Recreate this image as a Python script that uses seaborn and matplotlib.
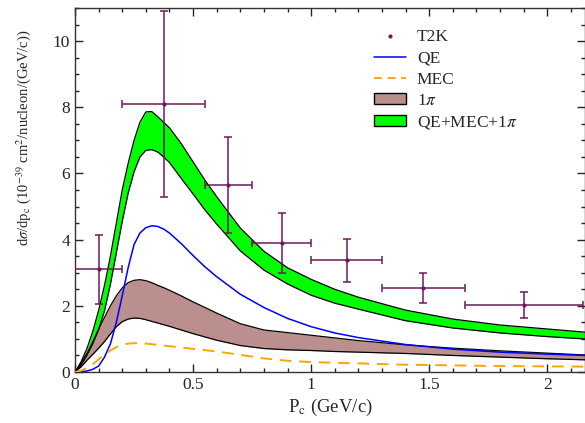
import numpy as np
import pandas as pd
import seaborn as sns
import matplotlib
matplotlib.use("Agg")
import matplotlib.pyplot as plt
from matplotlib.lines import Line2D
from matplotlib.patches import Patch
from matplotlib.ticker import MultipleLocator

# ---- data ----
pc = [0.0, 0.025, 0.05, 0.075, 0.1, 0.125, 0.15, 0.175, 0.2, 0.225, 0.25, 0.275,
      0.3, 0.325, 0.35, 0.375, 0.4, 0.45, 0.5, 0.55, 0.6, 0.7, 0.8, 0.9,
      1.0, 1.1, 1.2, 1.4, 1.6, 1.8, 2.0, 2.2]
qe = [0.0, 0.005, 0.03, 0.08, 0.18, 0.45, 0.85, 1.5, 2.3, 3.15, 3.85, 4.2,
      4.36, 4.42, 4.4, 4.32, 4.2, 3.88, 3.52, 3.18, 2.88, 2.35, 1.95, 1.62,
      1.37, 1.18, 1.04, 0.83, 0.69, 0.6, 0.54, 0.49]
mec = [0.0, 0.04, 0.12, 0.24, 0.38, 0.52, 0.65, 0.75, 0.82, 0.86, 0.87, 0.87,
       0.86, 0.84, 0.82, 0.8, 0.78, 0.74, 0.7, 0.66, 0.62, 0.52, 0.41, 0.34,
       0.3, 0.28, 0.26, 0.22, 0.2, 0.18, 0.17, 0.16]
pi_low = [0.0, 0.15, 0.35, 0.53, 0.72, 0.92, 1.15, 1.37, 1.52, 1.6, 1.63, 1.62,
          1.58, 1.53, 1.48, 1.43, 1.38, 1.27, 1.16, 1.06, 0.96, 0.8, 0.71, 0.67,
          0.65, 0.62, 0.6, 0.56, 0.5, 0.45, 0.4, 0.36]
pi_high = [0.0, 0.25, 0.55, 0.9, 1.3, 1.65, 2.0, 2.3, 2.54, 2.7, 2.77, 2.79,
           2.76, 2.7, 2.62, 2.55, 2.47, 2.3, 2.12, 1.95, 1.78, 1.46, 1.27, 1.19,
           1.11, 1.03, 0.95, 0.82, 0.72, 0.64, 0.57, 0.5]
tot_low = [0.0, 0.2, 0.5, 0.85, 1.28, 1.85, 2.65, 3.6, 4.55, 5.4, 6.05, 6.5,
           6.7, 6.72, 6.65, 6.5, 6.33, 5.85, 5.38, 4.9, 4.47, 3.66, 3.08, 2.66,
           2.32, 2.08, 1.9, 1.55, 1.33, 1.18, 1.07, 0.98]
tot_high = [0.0, 0.3, 0.7, 1.22, 1.86, 2.62, 3.5, 4.5, 5.5, 6.3, 7.0, 7.55,
            7.86, 7.87, 7.72, 7.55, 7.38, 6.9, 6.35, 5.8, 5.3, 4.35, 3.65, 3.15,
            2.8, 2.5, 2.26, 1.87, 1.6, 1.42, 1.3, 1.18]

t2k_x = [0.1, 0.375, 0.65, 0.875, 1.15, 1.475, 1.9]
t2k_y = [3.1, 8.1, 5.65, 3.9, 3.38, 2.55, 2.03]
t2k_yerr = [1.05, 2.8, 1.45, 0.9, 0.65, 0.45, 0.4]
t2k_xerr = [0.1, 0.175, 0.1, 0.125, 0.15, 0.175, 0.25]

xticks = [0, 0.5, 1, 1.5, 2]
xticklabels = ["0", "0.5", "1", "1.5", "2"]
yticks = [0, 2, 4, 6, 8, 10]

df = pd.DataFrame({"pc": pc, "QE": qe, "MEC": mec})

sns.set_style("ticks")
plt.rcParams["font.family"] = ["Liberation Serif", "DejaVu Serif"]
plt.rcParams["mathtext.fontset"] = "stix"

fig = plt.figure(figsize=(5.85, 4.23), dpi=100)
ax = fig.add_axes([75 / 585, 51 / 423, 510 / 585, 364 / 423])

green = "#00ff00"
brown = "#bc8f8f"
maroon = "#6e1a5a"

ax.fill_between(pc, tot_low, tot_high, color=green, lw=0, zorder=2)
ax.plot(pc, tot_low, color="black", lw=0.9, zorder=3)
ax.plot(pc, tot_high, color="black", lw=0.9, zorder=3)
ax.fill_between(pc, pi_low, pi_high, color=brown, lw=0, zorder=2)
ax.plot(pc, pi_low, color="black", lw=0.9, zorder=3)
ax.plot(pc, pi_high, color="black", lw=0.9, zorder=3)

sns.lineplot(data=df, x="pc", y="QE", ax=ax, color="#0000ff", lw=1.1, zorder=4)
sns.lineplot(data=df, x="pc", y="MEC", ax=ax, color="#ffa500", lw=1.4, zorder=4,
             linestyle=(0, (6, 4)))

ax.errorbar(t2k_x, t2k_y, xerr=t2k_xerr, yerr=t2k_yerr, fmt="o", ms=2.0,
            color=maroon, ecolor=maroon, elinewidth=1.1, capsize=3, capthick=1.1,
            zorder=5)

ax.set_xlim(0, 2.16)
ax.set_ylim(0, 11)
ax.set_xticks(xticks)
ax.set_xticklabels(xticklabels)
ax.set_yticks(yticks)
ax.xaxis.set_minor_locator(MultipleLocator(0.1))
ax.yaxis.set_minor_locator(MultipleLocator(0.5))
ax.tick_params(which="both", direction="in", top=True, right=True,
               labelsize=12.5, width=1.0)
ax.tick_params(which="major", length=6)
ax.tick_params(which="minor", length=3)
for s in ax.spines.values():
    s.set_linewidth(1.0)
    s.set_color("#333333")

ax.set_xlabel(r"P$_{\rm c}$ (GeV/c)", fontsize=13.5, labelpad=3)
ax.set_ylabel(r"d$\sigma$/dp$_{\rm c}$ (10$^{-39}$ cm$^{2}$/nucleon/(GeV/c))",
              fontsize=10.5)
ax.yaxis.set_label_coords(-0.082, 0.643)

handles = [
    Line2D([], [], marker="o", ms=2.0, color=maroon, lw=0),
    Line2D([], [], color="#0000ff", lw=1.1),
    Line2D([], [], color="#ffa500", lw=1.4, linestyle=(0, (4, 3))),
    Patch(facecolor=brown, edgecolor="black", lw=1.0),
    Patch(facecolor=green, edgecolor="black", lw=1.0),
]
labels = ["T2K", "QE", "MEC", r"1$\pi$", r"QE+MEC+1$\pi$"]
ax.legend(handles, labels, loc="upper left", bbox_to_anchor=(0.57, 0.965),
          frameon=False, fontsize=12.5, handlelength=1.85, handleheight=0.6,
          labelspacing=0.3, handletextpad=0.6, borderpad=0)

fig.savefig("out.png", dpi=100)
